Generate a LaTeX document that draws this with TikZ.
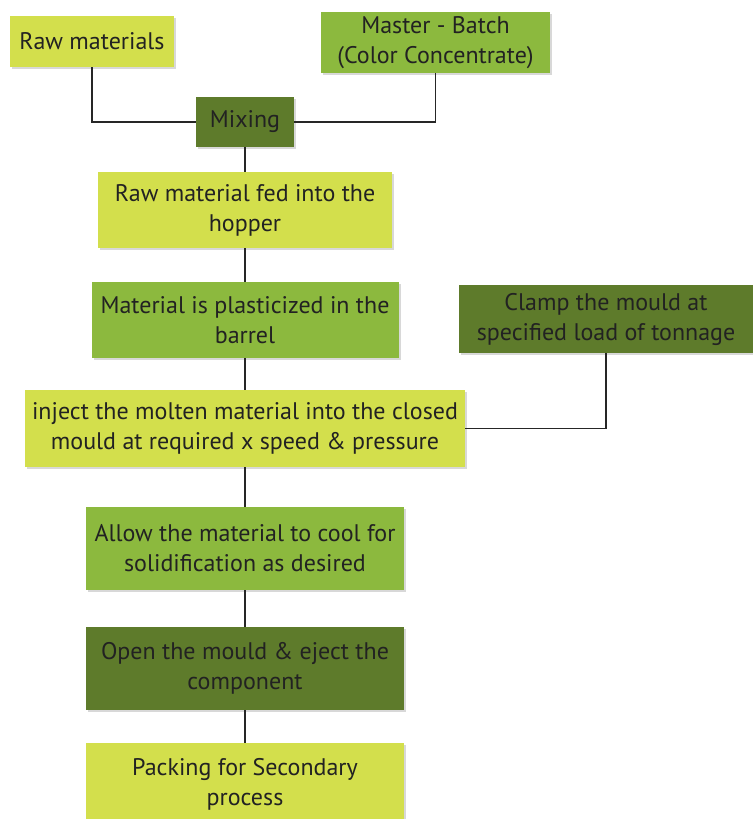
\documentclass[tikz,border=0pt]{standalone}
\usepackage{fontspec}
\setmainfont{PT Sans}
\usetikzlibrary{shadows}
\definecolor{limebox}{HTML}{D3DF4C}
\definecolor{leafbox}{HTML}{8CB93E}
\definecolor{olivebox}{HTML}{5E7B2B}
\definecolor{inktext}{HTML}{222222}
\begin{document}
\begin{tikzpicture}[x=0.75pt,y=-0.75pt,
	box/.style={rectangle, inner sep=0pt, align=center, text=inktext,
		font=\fontsize{18}{22.5}\selectfont,
		drop shadow={shadow xshift=1.5pt, shadow yshift=-1.5pt, opacity=0.3}},
	link/.style={line width=1.2pt, black!85}]
	\clip (0,0) rectangle (753,819);
	\fill[white] (0,0) rectangle (753,819);
	% top inputs
	\node[box, fill=limebox, minimum width=123pt, minimum height=38.25pt] (raw) at (92,41.5) {Raw materials};
	\node[box, fill=leafbox, minimum width=171.75pt, minimum height=45.75pt] (master) at (435.5,42.5) {Master - Batch\\(Color Concentrate)};
	\node[box, fill=olivebox, minimum width=73.5pt, minimum height=37.5pt] (mixing) at (245,122) {Mixing};
	% main column
	\node[box, fill=limebox, minimum width=220.5pt, minimum height=57pt] (hopper) at (245,210) {Raw material fed into the\\hopper};
	\node[box, fill=leafbox, minimum width=230.25pt, minimum height=57pt] (barrel) at (245,320) {Material is plasticized in the\\barrel};
	\node[box, fill=olivebox, minimum width=220.5pt, minimum height=51pt] (clamp) at (606,319) {Clamp the mould at\\specified load of tonnage};
	\node[box, fill=limebox, minimum width=330pt, minimum height=57.75pt] (inject) at (245,428.5) {inject the molten material into the closed\\mould at required x speed \& pressure};
	\node[box, fill=leafbox, minimum width=238.5pt, minimum height=62.25pt] (cool) at (245,548.5) {Allow the material to cool for\\solidification as desired};
	\node[box, fill=olivebox, minimum width=238.5pt, minimum height=62.25pt] (open) at (245,668.5) {Open the mould \& eject the\\component};
	\node[box, fill=limebox, minimum width=238.5pt, minimum height=62.25pt] (pack) at (245,784.5) {Packing for Secondary\\process};
	% connectors
	\draw[link] (raw.south) |- (mixing.west);
	\draw[link] (master.south) |- (mixing.east);
	\draw[link] (mixing) -- (hopper);
	\draw[link] (hopper) -- (barrel);
	\draw[link] (barrel) -- (inject);
	\draw[link] (clamp.south) |- (inject.east);
	\draw[link] (inject) -- (cool);
	\draw[link] (cool) -- (open);
	\draw[link] (open) -- (pack);
\end{tikzpicture}
\end{document}
